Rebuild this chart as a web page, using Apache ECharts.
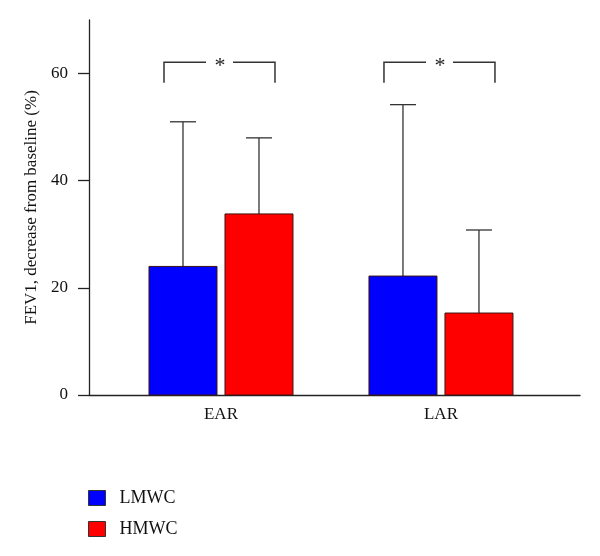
<!DOCTYPE html>
<html><head><meta charset="utf-8">
<script src="https://cdn.jsdelivr.net/npm/echarts@6/dist/echarts.min.js"></script>
<style>html,body{margin:0;padding:0;background:#fff}#c{width:600px;height:556px}</style>
</head><body><div id="c"></div>
<script>
const categories = ['EAR', 'LAR'];
const categoryPos = [1, 2];
const lmwcMean = [24.0, 22.2];
const lmwcUpper = [51.0, 54.2];
const hmwcMean = [33.8, 15.3];
const hmwcUpper = [48.0, 30.8];
const sigLow = [58.3, 58.3];
const sigHigh = [62.1, 62.1];
const yTicks = [0, 20, 40, 60];

const FONT = '"Liberation Serif", "DejaVu Serif", serif';

function barRender(offset) {
  return function (params, api) {
    const x = api.value(0), v = api.value(1), e = api.value(2);
    const top = api.coord([x, v]), base = api.coord([x, 0]), et = api.coord([x, e]);
    const cx = top[0] + offset;
    const ls = { stroke: '#333', lineWidth: 1.3 };
    return { type: 'group', children: [
      { type: 'line', shape: { x1: cx, y1: top[1], x2: cx, y2: et[1] }, style: ls },
      { type: 'line', shape: { x1: cx - 13, y1: et[1], x2: cx + 13, y2: et[1] }, style: ls },
      { type: 'rect', shape: { x: cx - 34, y: top[1], width: 68, height: base[1] - top[1] },
        style: { fill: api.visual('color'), stroke: '#3a1414', lineWidth: 1 } }
    ]};
  };
}

function sigRender(params, api) {
  const x = api.value(0);
  const hi = api.coord([x, api.value(2)]), lo = api.coord([x, api.value(1)]);
  const cx = hi[0] - 1;
  const ls = { stroke: '#333', lineWidth: 1.5, fill: 'none' };
  return { type: 'group', children: [
    { type: 'polyline', shape: { points: [[cx - 56, lo[1]], [cx - 56, hi[1]], [cx - 14, hi[1]]] }, style: ls },
    { type: 'polyline', shape: { points: [[cx + 13, hi[1]], [cx + 55, hi[1]], [cx + 55, lo[1]]] }, style: ls },
    { type: 'text', x: cx, y: hi[1] + 4, style: { text: '*', font: '22px ' + FONT, fill: '#222', align: 'center', verticalAlign: 'middle' } }
  ]};
}

const chart = echarts.init(document.getElementById('c'));
chart.setOption({
  animation: false,
  backgroundColor: '#fff',
  grid: { left: 89, right: 20, top: 20, bottom: 161 },
  legend: {
    data: ['LMWC', 'HMWC'], orient: 'vertical', left: 88, top: 489, padding: 0,
    itemWidth: 17, itemHeight: 15, itemGap: 13, icon: 'rect',
    itemStyle: { borderColor: '#333', borderWidth: 1 },
    textStyle: { fontFamily: FONT, fontSize: 18, color: '#111', padding: [0, 0, 0, 9] }
  },
  xAxis: {
    type: 'value', min: 0.4, max: 2.632,
    axisLine: { show: true, lineStyle: { color: '#222', width: 1.3 } },
    axisTick: { show: false }, splitLine: { show: false },
    axisLabel: { customValues: categoryPos, formatter: v => categories[Math.round(v) - 1] || '',
      fontFamily: FONT, fontSize: 17, color: '#111', margin: 11 }
  },
  yAxis: {
    type: 'value', min: 0, max: 70,
    name: 'FEV1, decrease from baseline (%)', nameLocation: 'middle', nameGap: 45,
    nameTextStyle: { fontFamily: FONT, fontSize: 17, color: '#111' },
    axisLine: { show: true, lineStyle: { color: '#222', width: 1.3 } },
    axisTick: { show: true, customValues: yTicks, length: 11, lineStyle: { color: '#222', width: 1.3 } },
    axisLabel: { customValues: yTicks, fontFamily: FONT, fontSize: 17, color: '#111', margin: 21 },
    splitLine: { show: false }
  },
  series: [
    { name: 'LMWC', type: 'custom', itemStyle: { color: '#0000ff' },
      data: categoryPos.map((x, i) => [x, lmwcMean[i], lmwcUpper[i]]),
      encode: { x: 0, y: 1 }, renderItem: barRender(-38) },
    { name: 'HMWC', type: 'custom', itemStyle: { color: '#ff0000' },
      data: categoryPos.map((x, i) => [x, hmwcMean[i], hmwcUpper[i]]),
      encode: { x: 0, y: 1 }, renderItem: barRender(38) },
    { name: 'sig', type: 'custom', silent: true,
      data: categoryPos.map((x, i) => [x, sigLow[i], sigHigh[i]]),
      encode: { x: 0, y: 2 }, renderItem: sigRender }
  ]
});
</script></body></html>
